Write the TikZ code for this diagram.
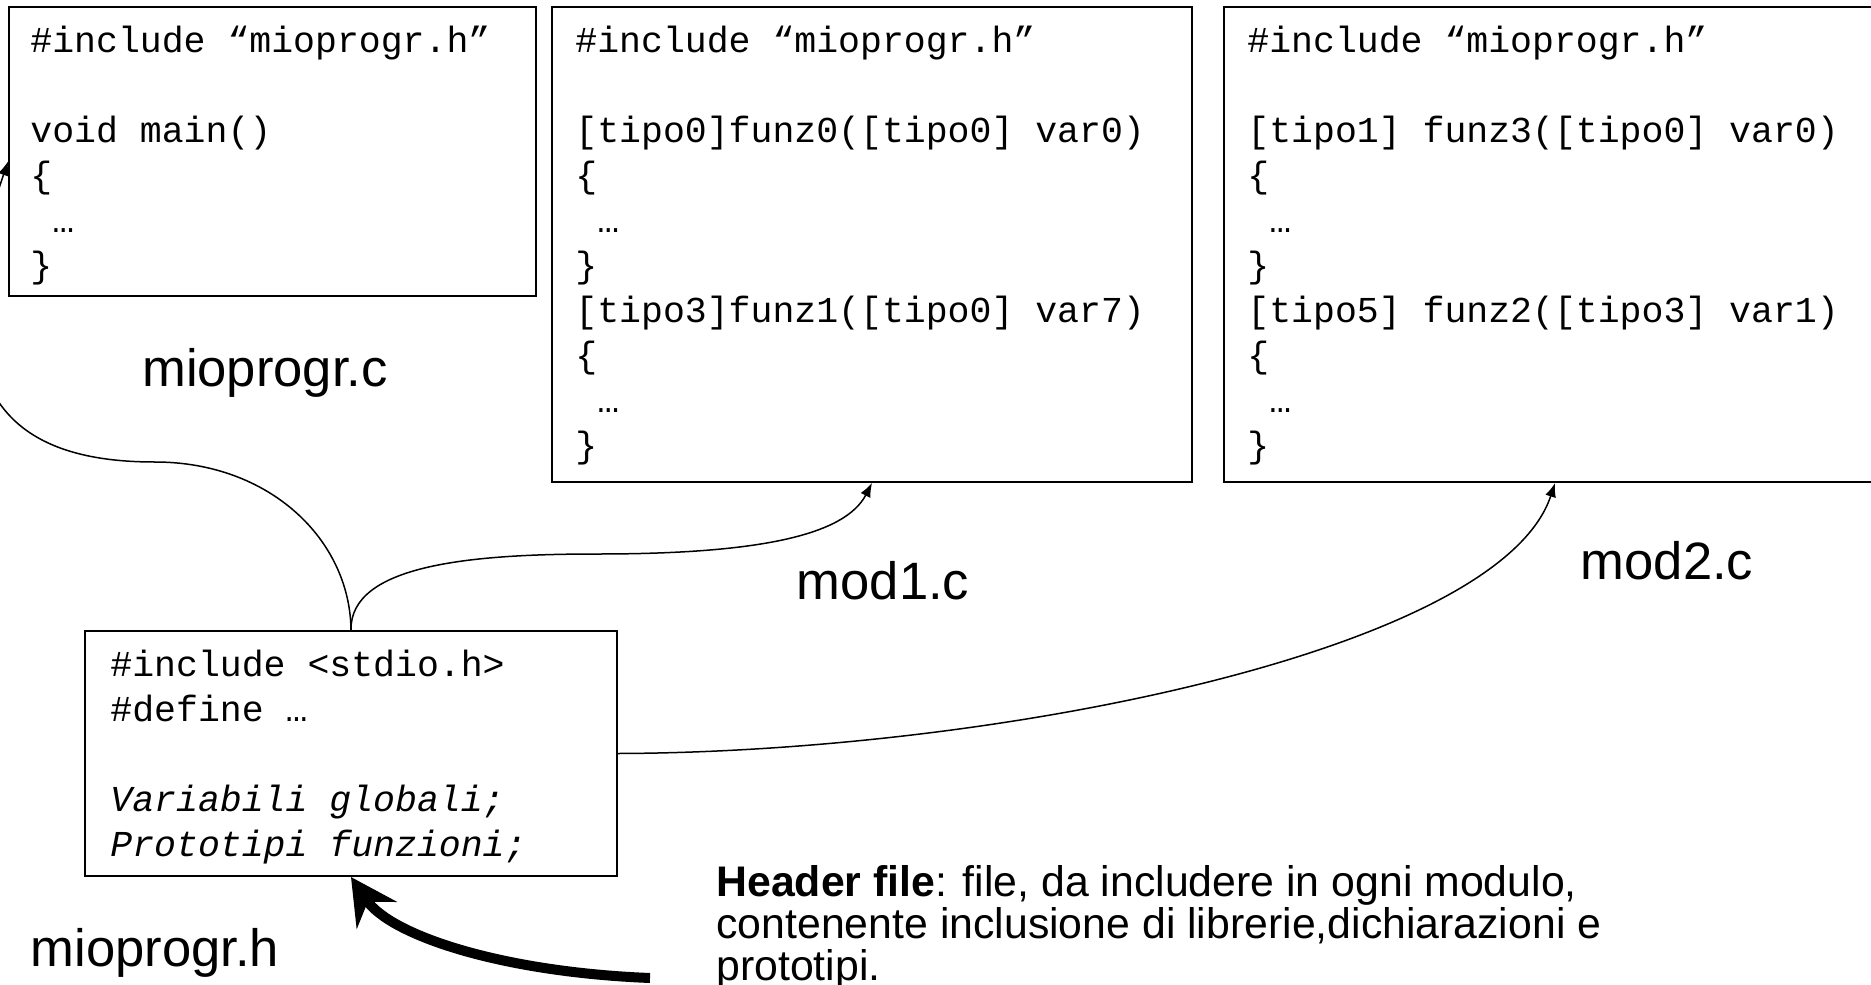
\documentclass[tikz,border=0pt]{standalone}
\usepackage{fontspec}
\setmainfont{Liberation Sans}
\setmonofont{Liberation Mono}
\usepackage{tikz}
\usetikzlibrary{arrows.meta,positioning,calc}

\begin{document}
\begin{tikzpicture}[x=0.5pt,y=-0.5pt,
  codebox/.style={draw=black,line width=1pt,rectangle,anchor=north west,inner sep=0pt},
  code/.style={inner sep=0pt,align=left,font=\fontsize{18.25}{22.5}\selectfont\ttfamily},
  fname/.style={inner sep=0pt,font=\fontsize{26.3}{30}\selectfont},
  conn/.style={line width=0.75pt,-{Latex[length=7pt,width=5.5pt]}}]
  \useasboundingbox (0,0) rectangle (1871,984);
  \clip (0,0) rectangle (1871,984);
  \node[codebox,minimum width=263.5pt,minimum height=144.5pt] (mainc) at (8,6) {};
  \node[codebox,minimum width=320pt,minimum height=237.5pt] (mod1) at (551,6) {};
  \node[codebox,minimum width=331pt,minimum height=237.5pt] (mod2) at (1223,6) {};
  \node[codebox,minimum width=266pt,minimum height=122.5pt] (hfile) at (84,630) {};
  \node[code,below right=10pt and 11pt of mainc.north west] (mainctxt)
    {\#include “mioprogr.h”\\ \mbox{}\\ void main()\\ \{\\ \ …\\ \}};
  \node[code,below right=10pt and 12pt of mod1.north west] (mod1txt)
    {\#include “mioprogr.h”\\ \mbox{}\\ {}[tipo0]funz0([tipo0] var0)\\ \{\\ \ …\\ \}\\
     {}[tipo3]funz1([tipo0] var7)\\ \{\\ \ …\\ \}};
  \node[code,below right=10pt and 12pt of mod2.north west] (mod2txt)
    {\#include “mioprogr.h”\\ \mbox{}\\ {}[tipo1] funz3([tipo0] var0)\\ \{\\ \ …\\ \}\\
     {}[tipo5] funz2([tipo3] var1)\\ \{\\ \ …\\ \}};
  \node[code,below right=10pt and 13pt of hfile.north west] (hfiletxt)
    {\#include <stdio.h>\\ \#define …\\ \mbox{}\\ \textit{Variabili globali;}\\ \textit{Prototipi funzioni;}};
  \node[fname] (mainclbl) at (265,373) {mioprogr.c};
  \node[fname] (mod1lbl) at (883,581) {mod1.c};
  \node[fname] (mod2lbl) at (1667,561) {mod2.c};
  \node[fname] (hfilelbl) at (155,953) {mioprogr.h};
  \node[anchor=north west,inner sep=0pt,align=left,font=\fontsize{21.4}{21}\selectfont] (note) at (716,865)
    {\textbf{Header file}: file, da includere in ogni modulo,\\contenente inclusione di librerie,dichiarazioni e\\prototipi.};
  \coordinate (bendA) at (155,462);
  \coordinate (bendB) at (597,554);
  \coordinate (hstart) at (650,978);
  \draw[conn] (hfile.north) .. controls (350,540) and (270,462) .. (bendA)
    .. controls (40,462) and (-80,420) .. ($(mainc.west)+(0,10)$);
  \draw[conn] (hfile.north) .. controls (350,565) and (470,554) .. (bendB)
    .. controls (760,554) and (845,535) .. (mod1.south);
  \draw[conn] (hfile.east) .. controls (1000,752) and (1500,650) .. (mod2.south);
  \draw[line width=5pt,-{Stealth[length=23pt,width=24pt,inset=8pt]}] (hstart)
    .. controls (500,972) and (390,935) .. (hfile.south);
\end{tikzpicture}
\end{document}
